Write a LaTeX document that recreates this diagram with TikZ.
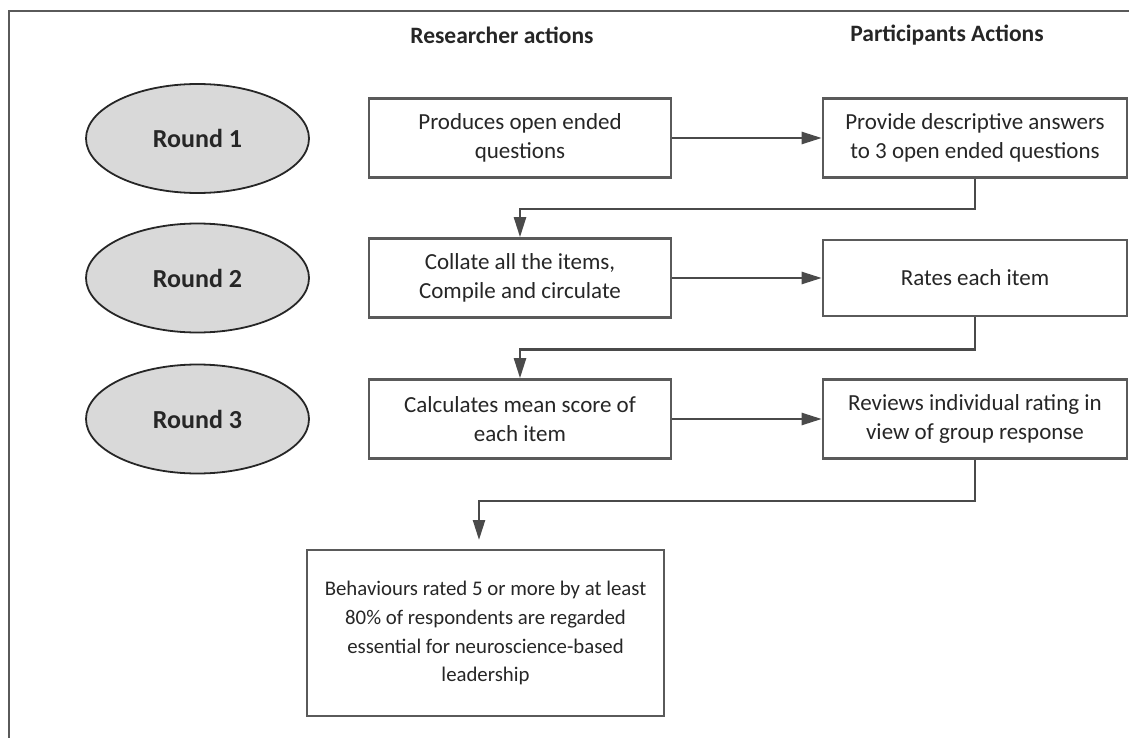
\documentclass[tikz,border=0pt]{standalone}
\usepackage{fontspec}
\setmainfont{Carlito}
\usetikzlibrary{arrows.meta,shapes.geometric}
\definecolor{linegray}{HTML}{4A4A4A}
\definecolor{boxgray}{HTML}{5A5A5A}
\definecolor{roundfill}{HTML}{D9D9D9}
\definecolor{txt}{HTML}{262626}
\begin{document}
\begin{tikzpicture}[x=1pt,y=-1pt,
  every node/.style={font=\fontsize{23}{29}\selectfont, text=txt},
  header/.style={font=\fontsize{23.5}{28}\selectfont\bfseries},
  roundnode/.style={ellipse, draw=black!85, line width=1.8pt, fill=roundfill,
    minimum width=223pt, minimum height=109pt, inner sep=0pt,
    font=\fontsize{26}{30}\selectfont\bfseries},
  actbox/.style={rectangle, draw=boxgray, line width=2.6pt, fill=white,
    minimum width=302pt, minimum height=79pt, align=center, inner sep=0pt},
  flow/.style={draw=linegray, line width=2.4pt,
    -{Triangle[length=20pt,width=12pt]}}
]
\useasboundingbox (0,0) rectangle (1129,738);
% frame edges along the left and top
\draw[boxgray, line width=2pt] (9,738) -- (9,11) -- (1129,11);

% column headings
\node[header] (hR) at (502,35) {Researcher actions};
\node[header] (hP) at (947,35) {Participants Actions};

% rounds
\node[roundnode] (r1) at (197.5,138.5) {Round 1};
\node[roundnode] (r2) at (197.5,278) {Round 2};
\node[roundnode] (r3) at (197.5,419) {Round 3};

% researcher actions
\node[actbox] (a1) at (520,138) {Produces open ended\\questions};
\node[actbox] (a2) at (520,278) {Collate all the items,\\Compile and circulate};
\node[actbox] (a3) at (520,419) {Calculates mean score of\\each item};

% participant actions
\node[actbox, minimum width=304pt] (p1) at (975,138) {Provide descriptive answers\\to 3 open ended questions};
\node[actbox, minimum width=304pt, minimum height=76pt] (p2) at (975,278) {Rates each item};
\node[actbox, minimum width=304pt] (p3) at (975,419) {Reviews individual rating in\\view of group response};

% outcome
\node[actbox, minimum width=357pt, minimum height=166pt,
  font=\fontsize{20.8}{28.9}\selectfont] (fin) at (485.5,633)
  {Behaviours rated 5 or more by at least\\80\% of respondents are regarded\\essential for neuroscience-based\\leadership};
\coordinate (finin) at (479,540);

% connectors
\draw[flow] (a1) -- (p1);
\draw[flow] (a2) -- (p2);
\draw[flow] (a3) -- (p3);
\draw[flow] (p1.south) -- ++(0,30) -| (a2.north);
\draw[flow] (p2.south) -- ++(0,32) -| (a3.north);
\draw[flow] (p3.south) -- ++(0,41) -| (finin);
\end{tikzpicture}
\end{document}
